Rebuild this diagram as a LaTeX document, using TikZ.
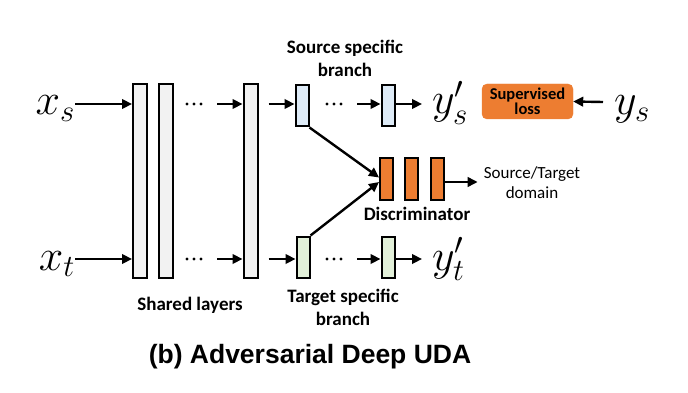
\RequirePackage{fix-cm}
\documentclass[tikz,border=0pt]{standalone}
\usepackage{fontspec}
\setmainfont{Carlito}
\newfontfamily\titlefont{Liberation Sans}
\usetikzlibrary{arrows.meta}
\definecolor{layergray}{HTML}{F2F2F2}
\definecolor{srcblue}{HTML}{DEEBF7}
\definecolor{tgtgreen}{HTML}{E2F0D9}
\definecolor{discorange}{HTML}{ED7D31}
\begin{document}
\begin{tikzpicture}[x=1pt,y=-1pt,
  box/.style={draw=black, line width=2pt, inner sep=0pt, minimum width=13pt},
  layer/.style={box, fill=layergray, minimum width=14pt, minimum height=194pt},
  srcbox/.style={box, fill=srcblue, minimum height=41pt},
  tgtbox/.style={box, fill=tgtgreen, minimum height=41pt},
  discbox/.style={box, fill=discorange, minimum height=42pt},
  arr/.style={line width=2.4pt, -{Triangle[length=10pt,width=9.5pt]}},
  mathlbl/.style={inner sep=0pt, font=\fontsize{44}{48}\selectfont},
  lbl/.style={inner sep=0pt, font=\fontsize{19}{23}\selectfont\bfseries},
  lbltwo/.style={lbl, align=center},
  dots/.style={inner sep=0pt, minimum width=20pt, minimum height=5pt,
    path picture={\fill (path picture bounding box.center) circle (1.7pt)
      ++(-7pt,0) circle (1.7pt) ++(14pt,0) circle (1.7pt);}}
]
\useasboundingbox (0,0) rectangle (688,393);

% row guides
\coordinate (rs) at (0,104);
\coordinate (rt) at (0,259);

% inputs
\node[mathlbl, anchor=base east] (xs) at (75,115) {$x_s$};
\node[mathlbl, anchor=base east] (xt) at (75,270) {$x_t$};

% shared layers
\node[layer] (L1) at (140,181) {};
\node[layer] (L2) at (165.5,181) {};
\node[layer] (L3) at (250.5,181) {};
\node[dots] (d1) at (194,104) {};
\node[dots] (d2) at (194,259) {};
\node[lbl] (shared) at (190,305) {Shared layers};

% source specific branch
\node[srcbox] (S1) at (302,106) {};
\node[dots] (d3) at (334,104) {};
\node[srcbox] (S2) at (388,106) {};
\node[lbltwo] (srclbl) at (345,58) {Source specific\\branch};
\node[mathlbl, anchor=base west] (ysp) at (432,114) {$y'_s$};

% target specific branch
\node[tgtbox] (T1) at (303,257) {};
\node[dots] (d4) at (334,259) {};
\node[tgtbox] (T2) at (388,257) {};
\node[lbltwo] (tgtlbl) at (343,307) {Target specific\\branch};
\node[mathlbl, anchor=base west] (ytp) at (432,270) {$y'_t$};

% discriminator
\node[discbox] (D1) at (386.5,179) {};
\node[discbox] (D2) at (411.5,179) {};
\node[discbox] (D3) at (437.5,179) {};
\node[lbl] (disclbl) at (417,214) {Discriminator};
\node[inner sep=0pt, align=center, font=\fontsize{17}{20}\selectfont] (dom) at (532,183) {Source/Target\\domain};

% supervised loss
\node[draw=discorange, fill=discorange, rounded corners=5pt, minimum width=91pt, minimum height=35pt,
      inner sep=0pt, align=center, font=\fontsize{16.5}{15}\selectfont\bfseries] (loss) at (527.5,101.5) {Supervised\\loss};
\node[mathlbl, anchor=base west] (ys) at (614,115) {$y_s$};
\coordinate (ysin) at (603,102);

% connectors
\draw[arr] (xs.east |- rs) -- (L1.west |- rs);
\draw[arr] (xt.east |- rt) -- (L1.west |- rt);
\draw[arr] ([xshift=13pt]d1.east) -- (L3.west |- rs);
\draw[arr] ([xshift=13pt]d2.east) -- (L3.west |- rt);
\draw[arr] ([xshift=10pt]L3.east |- rs) -- (S1.west |- rs);
\draw[arr] ([xshift=10pt]L3.east |- rt) -- (T1.west |- rt);
\draw[arr] ([xshift=13pt]d3.east) -- (S2.west |- rs);
\draw[arr] ([xshift=13pt]d4.east) -- (T2.west |- rt);
\draw[arr] (S2.east |- rs) -- ([xshift=-10pt]ysp.west |- rs);
\draw[arr] (T2.east |- rt) -- ([xshift=-10pt]ytp.west |- rt);
\draw[arr] (S1.south east) -- ([yshift=1.5pt]D1.west);
\draw[arr] (T1.north east) -- ([yshift=-3pt]D1.west);
\draw[arr] ([yshift=-3pt]D3.east) -- ([xshift=-6pt,yshift=-3pt]dom.west |- D3.east);
\draw[arr] (ysin) -- (loss.east);

% caption
\node[inner sep=0pt, font=\fontsize{26.5}{30}\selectfont\titlefont\bfseries] (title) at (310,357) {(b) Adversarial Deep UDA};
\end{tikzpicture}
\end{document}
